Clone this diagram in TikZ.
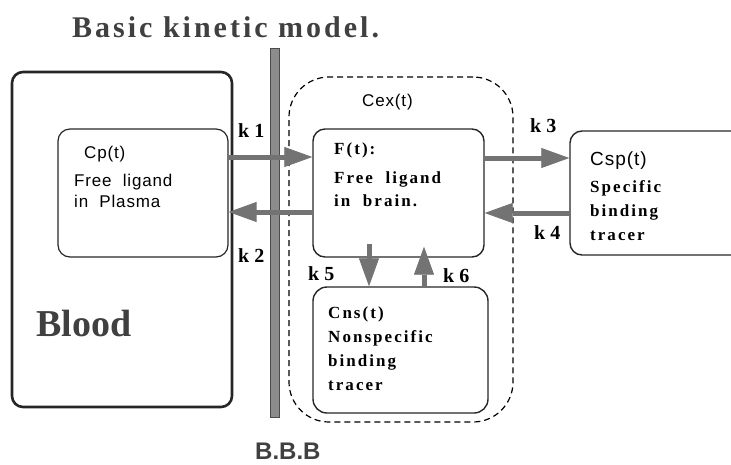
\documentclass[tikz,border=0pt]{standalone}
\usepackage{fontspec}
\setmainfont{Liberation Serif}
\setsansfont{Liberation Sans}
\newfontfamily\serifsp[LetterSpace=12]{Liberation Serif}
\newfontfamily\sanssp[LetterSpace=5]{Liberation Sans}
\newfontfamily\titlef[LetterSpace=10]{Liberation Serif}
\usetikzlibrary{arrows.meta}
\definecolor{arrgray}{rgb}{0.45,0.45,0.45}
\definecolor{bargray}{rgb}{0.55,0.55,0.55}
\tikzset{
  box/.style={draw=black!85, line width=1.4pt, rounded corners=12pt, inner sep=0pt},
  txt/.style={anchor=base west, inner sep=0pt},
  sertxt/.style={txt, font=\fontsize{17}{20}\selectfont\serifsp\bfseries},
  santxt/.style={txt, font=\fontsize{17}{20}\selectfont\sanssp},
  klab/.style={txt, font=\fontsize{20}{22}\selectfont\bfseries},
  arr/.style={draw=arrgray, line width=5pt,
    -{Triangle[length=28pt,width=20pt,fill=arrgray,line width=0.8pt]}},
}
\begin{document}
\begin{tikzpicture}[x=1pt,y=-1pt]
\useasboundingbox (0,0) rectangle (731,464);
\clip (0,0) rectangle (731,464);
% title
\node[txt, font=\fontsize{30}{32}\selectfont\titlef\bfseries, text=black!75] (title) at (72,37) {Basic kinetic model.};
% blood box
\node[box, line width=2.6pt, rounded corners=11pt, minimum width=220pt, minimum height=335pt] (blood) at (122,239.5) {};
\node[txt, font=\fontsize{38}{40}\selectfont\bfseries, text=black!75] (bloodlab) at (36,336) {Blood};
% BBB bar
\node[draw=black!70, fill=bargray, line width=0.6pt, minimum width=9pt, minimum height=369pt, inner sep=0pt] (bbb) at (274.5,232.5) {};
\node[txt, font=\fontsize{24}{26}\selectfont\sffamily\bfseries, text=black!75] (bbblab) at (255,459) {B.B.B};
% dashed Cex region
\node[draw=black, dashed, dash pattern=on 6pt off 4pt, line width=1.2pt, rounded corners=40pt, minimum width=224pt, minimum height=345pt, inner sep=0pt] (cex) at (401,249.5) {};
\node[santxt] (cexlab) at (362,106) {Cex(t)};
% Cp box
\node[box, line width=1.2pt, minimum width=170pt, minimum height=128pt] (cp) at (143,193) {};
\node[santxt] (cp1) at (84,158) {Cp(t)};
\node[santxt] (cp2) at (74,186) {Free\ \ ligand};
\node[santxt] (cp3) at (74,207) {in\ \ Plasma};
% F box
\node[box, minimum width=171pt, minimum height=128pt] (f) at (398.5,193) {};
\node[sertxt] (f1) at (334,154) {F(t):};
\node[sertxt] (f2) at (334,183) {Free\ \ ligand};
\node[sertxt] (f3) at (334,206) {in\ \ brain.};
% Csp box
\node[box, minimum width=180pt, minimum height=124pt] (csp) at (660,193) {};
\node[txt, font=\fontsize{19}{22}\selectfont\sanssp] (csp1) at (590,165) {Csp(t)};
\node[sertxt] (csp2) at (590,192) {Specific};
\node[sertxt] (csp3) at (590,216) {binding};
\node[sertxt] (csp4) at (590,240) {tracer};
% Cns box
\node[box, rounded corners=14pt, minimum width=175pt, minimum height=126pt] (cns) at (400.5,350) {};
\node[sertxt] (cns1) at (328,318) {Cns(t)};
\node[sertxt] (cns2) at (328,342) {Nonspecific};
\node[sertxt] (cns3) at (328,366) {binding};
\node[sertxt] (cns4) at (328,390) {tracer};
% arrows
\draw[arr] ([yshift=36pt]cp.east) -- ([yshift=36pt]f.west);
\draw[arr] ([yshift=-19pt]f.west) -- ([yshift=-19pt]cp.east);
\draw[arr] ([yshift=35pt]f.east) -- ([yshift=35pt]f.east -| csp.west);
\draw[arr] ([yshift=-20pt]f.east -| csp.west) -- ([yshift=-20pt]f.east);
\draw[arr] ([yshift=14pt]f.south -| 369,0) -- (cns.north -| 369,0);
\draw[arr] (cns.north -| 424,0) -- ([yshift=11pt]f.south -| 424,0);
% k labels
\node[klab] (k1) at (238,137) {k 1};
\node[klab] (k2) at (238,262) {k 2};
\node[klab] (k3) at (530,132) {k 3};
\node[klab] (k4) at (534,239) {k 4};
\node[klab] (k5) at (308,280) {k 5};
\node[klab] (k6) at (443,282) {k 6};
\end{tikzpicture}
\end{document}
